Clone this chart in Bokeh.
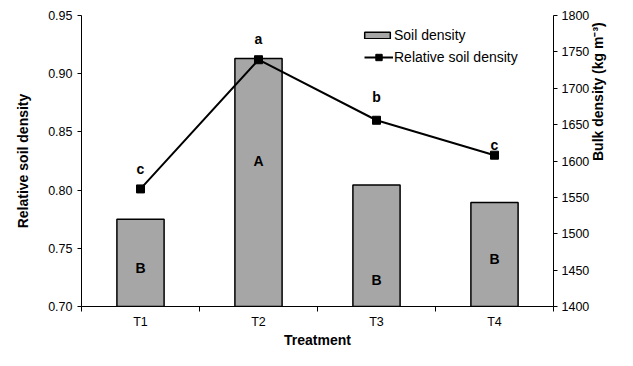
import math
from bokeh.plotting import figure
from bokeh.models import Range1d, LinearAxis, FixedTicker, Legend, LegendItem
from bokeh.core.properties import value
from bokeh.embed import file_html
from bokeh.resources import INLINE

# ---- data ----
treatments = ["T1", "T2", "T3", "T4"]
x_pos = [1, 2, 3, 4]
bulk_density = [1520, 1741, 1567, 1543]          # kg m-3 (right axis, bars)
relative_density = [0.801, 0.912, 0.860, 0.830]  # left axis, line
line_letters = ["c", "a", "b", "c"]
line_letter_y = [0.818, 0.930, 0.880, 0.839]
bar_letters = ["B", "A", "B", "B"]
bar_letter_y = [0.733, 0.825, 0.723, 0.741]
left_ticks = [0.70, 0.75, 0.80, 0.85, 0.90, 0.95]
right_ticks = [1400, 1450, 1500, 1550, 1600, 1650, 1700, 1750, 1800]
category_edges = [0.5, 1.5, 2.5, 3.5, 4.5]

FONT = "Liberation Sans"

p = figure(width=617, height=350, x_range=Range1d(0.5, 4.5), y_range=Range1d(0.70, 0.95),
           output_backend="svg", toolbar_location=None,
           min_border_left=81, min_border_right=64, min_border_top=15, min_border_bottom=44)
p.outline_line_color = None
p.xgrid.visible = False
p.ygrid.visible = False
p.background_fill_color = "white"

p.extra_y_ranges = {"bulk": Range1d(1400, 1800)}

# bars
bars = p.vbar(x=x_pos, top=bulk_density, bottom=1400, width=0.4, y_range_name="bulk",
              fill_color="#A6A6A6", line_color="black", line_width=1.5)
# line
ln = p.line(x_pos, relative_density, line_color="black", line_width=2)
sc = p.scatter(x_pos, relative_density, marker="square", size=8, color="black")

# letters
p.text(x=x_pos, y=line_letter_y, text=line_letters, text_font=value(FONT),
       text_font_style="bold", text_font_size="14px", text_align="center",
       text_baseline="middle", text_color="black")
p.text(x=x_pos, y=bar_letter_y, text=bar_letters, text_font=value(FONT),
       text_font_style="bold", text_font_size="14px", text_align="center",
       text_baseline="middle", text_color="black")

# x axis
xa = p.xaxis[0]
xa.ticker = FixedTicker(ticks=x_pos, minor_ticks=category_edges)
xa.major_label_overrides = {x: t for x, t in zip(x_pos, treatments)}
xa.major_tick_out = 0
xa.major_tick_in = 0
xa.minor_tick_out = 5
xa.minor_tick_in = 0
xa.major_label_standoff = 3
xa.axis_label = "Treatment"
xa.axis_label_standoff = 0

# left axis
ya = p.yaxis[0]
ya.ticker = FixedTicker(ticks=left_ticks)
ya.major_label_overrides = {t: f"{t:.2f}" for t in left_ticks}
ya.minor_tick_out = 0
ya.minor_tick_in = 0
ya.major_tick_out = 4
ya.major_tick_in = 0
ya.major_label_standoff = 5
ya.axis_label = "Relative soil density"
ya.axis_label_standoff = 14

# right axis
ra = LinearAxis(y_range_name="bulk", ticker=FixedTicker(ticks=right_ticks),
                axis_label="Bulk density (kg m\u207b\u00b3)")
ra.major_tick_out = 4
ra.major_tick_in = 0
ra.minor_tick_out = 0
ra.minor_tick_in = 0
ra.major_label_standoff = 4
ra.axis_label_standoff = 6
ra.axis_label_orientation = math.pi / 2
p.add_layout(ra, "right")

for ax in [xa, ya, ra]:
    ax.axis_line_color = "black"
    ax.major_tick_line_color = "black"
    ax.minor_tick_line_color = "black"
    ax.major_label_text_font = FONT
    ax.major_label_text_font_size = "12.5px"
    ax.major_label_text_color = "black"
    ax.axis_label_text_font = FONT
    ax.axis_label_text_font_size = "14px"
    ax.axis_label_text_font_style = "bold"
    ax.axis_label_text_color = "black"

# legends
leg1 = Legend(items=[LegendItem(label="Soil density", renderers=[bars])],
              location=(280, 263), glyph_width=32, glyph_height=8, label_height=16)
leg2 = Legend(items=[LegendItem(label="Relative soil density", renderers=[ln, sc])],
              location=(283, 241), glyph_width=29, glyph_height=16, label_height=16)
for lg in [leg1, leg2]:
    lg.border_line_color = None
    lg.background_fill_alpha = 0
    lg.padding = 0
    lg.margin = 0
    lg.spacing = 0
    lg.label_standoff = 1
    lg.label_text_font = FONT
    lg.label_text_font_size = "14px"
    lg.label_text_color = "black"
    p.add_layout(lg)

open("out.html", "w").write(file_html(p, INLINE))
